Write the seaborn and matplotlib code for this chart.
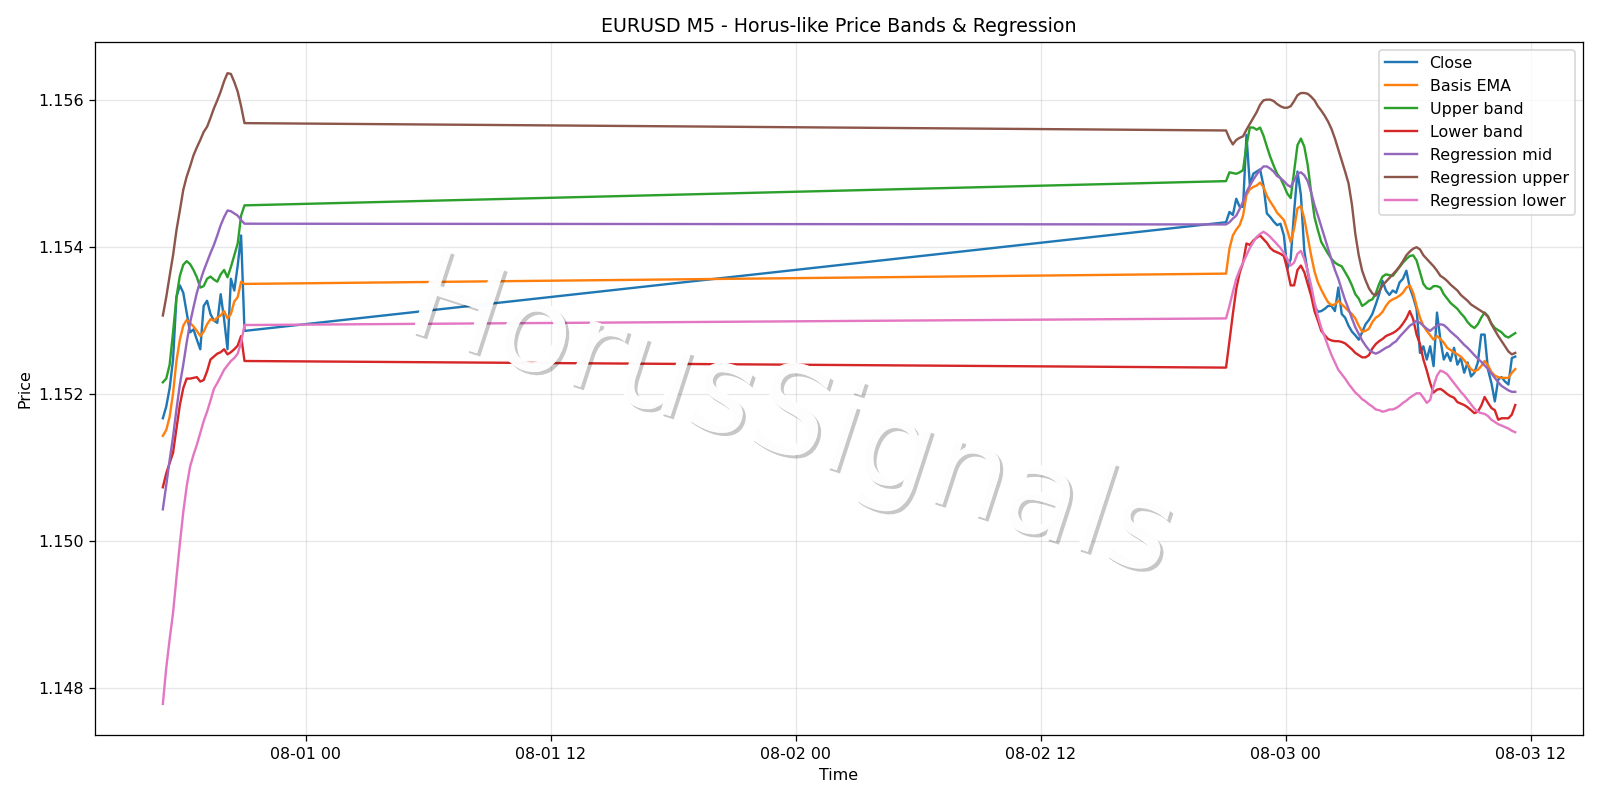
import numpy as np
import pandas as pd
import matplotlib
matplotlib.use("Agg")
import matplotlib.pyplot as plt
import matplotlib.dates as mdates
import matplotlib.patheffects as pe
import seaborn as sns

# DONNÉES (lues sur le graphique, pas de 10 min)
# =============================================

# deux sessions : 07-31 17:00 -> 21:00 puis 08-02 21:05 -> 08-03 11:15
t1 = pd.date_range("2025-07-31 17:00", "2025-07-31 21:00", freq="10min")
t2 = pd.date_range("2025-08-02 21:05", "2025-08-03 11:15", freq="10min")

close_1 = [1.15167, 1.15183, 1.15208, 1.15247, 1.15332, 1.15348, 1.15338, 1.15311, 1.15284, 1.15288,
           1.15274, 1.15261, 1.15320, 1.15327, 1.15309, 1.15300, 1.15297, 1.15336, 1.15302, 1.15261,
           1.15357, 1.15341, 1.15375, 1.15416, 1.15286]
close_2 = [1.15434, 1.15448, 1.15444, 1.15466, 1.15455, 1.15455, 1.15553, 1.15484, 1.15500, 1.15503,
           1.15506, 1.15484, 1.15446, 1.15441, 1.15435, 1.15430, 1.15432, 1.15416, 1.15370, 1.15384,
           1.15448, 1.15503, 1.15471, 1.15395, 1.15366, 1.15341, 1.15320, 1.15312, 1.15313, 1.15316,
           1.15320, 1.15320, 1.15313, 1.15345, 1.15309, 1.15304, 1.15293, 1.15285, 1.15280, 1.15274,
           1.15284, 1.15295, 1.15301, 1.15309, 1.15322, 1.15336, 1.15354, 1.15341, 1.15335, 1.15341,
           1.15338, 1.15352, 1.15357, 1.15368, 1.15345, 1.15332, 1.15316, 1.15256, 1.15265, 1.15247,
           1.15265, 1.15238, 1.15311, 1.15274, 1.15247, 1.15256, 1.15245, 1.15263, 1.15240, 1.15249,
           1.15229, 1.15243, 1.15224, 1.15229, 1.15243, 1.15281, 1.15281, 1.15233, 1.15215, 1.15190,
           1.15220, 1.15223, 1.15217, 1.15213, 1.15249, 1.15251]

ema_1 = [1.15143, 1.15151, 1.15169, 1.15201, 1.15245, 1.15274, 1.15293, 1.15301, 1.15297, 1.15292,
         1.15286, 1.15279, 1.15285, 1.15295, 1.15302, 1.15300, 1.15304, 1.15307, 1.15313, 1.15303,
         1.15309, 1.15326, 1.15332, 1.15353, 1.15350]
ema_2 = [1.15364, 1.15398, 1.15416, 1.15424, 1.15430, 1.15443, 1.15471, 1.15479, 1.15482, 1.15484,
         1.15488, 1.15482, 1.15470, 1.15462, 1.15455, 1.15447, 1.15442, 1.15437, 1.15423, 1.15407,
         1.15425, 1.15453, 1.15456, 1.15439, 1.15414, 1.15389, 1.15367, 1.15352, 1.15342, 1.15333,
         1.15325, 1.15321, 1.15322, 1.15327, 1.15322, 1.15318, 1.15313, 1.15309, 1.15303, 1.15293,
         1.15285, 1.15286, 1.15289, 1.15298, 1.15304, 1.15307, 1.15312, 1.15320, 1.15326, 1.15329,
         1.15331, 1.15334, 1.15338, 1.15345, 1.15348, 1.15338, 1.15320, 1.15304, 1.15293, 1.15286,
         1.15280, 1.15274, 1.15279, 1.15275, 1.15270, 1.15263, 1.15260, 1.15257, 1.15254, 1.15251,
         1.15246, 1.15240, 1.15234, 1.15231, 1.15233, 1.15238, 1.15245, 1.15239, 1.15230, 1.15225,
         1.15223, 1.15222, 1.15222, 1.15222, 1.15229, 1.15234]

upper_1 = [1.15216, 1.15221, 1.15240, 1.15284, 1.15332, 1.15361, 1.15376, 1.15381, 1.15377, 1.15369,
           1.15359, 1.15345, 1.15347, 1.15357, 1.15360, 1.15356, 1.15353, 1.15363, 1.15369, 1.15359,
           1.15373, 1.15389, 1.15405, 1.15443, 1.15457]
upper_2 = [1.15490, 1.15502, 1.15501, 1.15500, 1.15502, 1.15505, 1.15539, 1.15563, 1.15563, 1.15560,
           1.15563, 1.15552, 1.15537, 1.15523, 1.15511, 1.15500, 1.15494, 1.15484, 1.15473, 1.15467,
           1.15503, 1.15539, 1.15548, 1.15537, 1.15512, 1.15475, 1.15441, 1.15423, 1.15407, 1.15399,
           1.15391, 1.15384, 1.15379, 1.15376, 1.15374, 1.15366, 1.15358, 1.15348, 1.15336, 1.15330,
           1.15320, 1.15323, 1.15327, 1.15329, 1.15337, 1.15350, 1.15360, 1.15363, 1.15362, 1.15361,
           1.15367, 1.15373, 1.15379, 1.15384, 1.15388, 1.15389, 1.15382, 1.15366, 1.15350, 1.15344,
           1.15343, 1.15347, 1.15347, 1.15345, 1.15336, 1.15330, 1.15324, 1.15320, 1.15316, 1.15310,
           1.15305, 1.15298, 1.15293, 1.15290, 1.15295, 1.15304, 1.15311, 1.15306, 1.15296, 1.15290,
           1.15287, 1.15284, 1.15279, 1.15277, 1.15280, 1.15283]

lower_1 = [1.15073, 1.15092, 1.15106, 1.15120, 1.15153, 1.15185, 1.15208, 1.15221, 1.15221, 1.15222,
           1.15223, 1.15217, 1.15219, 1.15231, 1.15247, 1.15251, 1.15255, 1.15257, 1.15261, 1.15254,
           1.15257, 1.15261, 1.15266, 1.15279, 1.15245]
lower_2 = [1.15236, 1.15272, 1.15309, 1.15343, 1.15365, 1.15379, 1.15405, 1.15403, 1.15409, 1.15413,
           1.15416, 1.15411, 1.15406, 1.15399, 1.15395, 1.15393, 1.15391, 1.15388, 1.15370, 1.15348,
           1.15348, 1.15369, 1.15375, 1.15366, 1.15350, 1.15334, 1.15313, 1.15300, 1.15286, 1.15280,
           1.15275, 1.15273, 1.15272, 1.15272, 1.15271, 1.15269, 1.15265, 1.15261, 1.15256, 1.15253,
           1.15250, 1.15250, 1.15253, 1.15262, 1.15268, 1.15272, 1.15275, 1.15279, 1.15281, 1.15283,
           1.15286, 1.15290, 1.15296, 1.15303, 1.15313, 1.15302, 1.15281, 1.15268, 1.15247, 1.15232,
           1.15215, 1.15202, 1.15206, 1.15207, 1.15204, 1.15200, 1.15197, 1.15195, 1.15189, 1.15187,
           1.15185, 1.15182, 1.15178, 1.15174, 1.15176, 1.15184, 1.15196, 1.15188, 1.15181, 1.15178,
           1.15165, 1.15167, 1.15167, 1.15167, 1.15172, 1.15185]

reg_mid_1 = [1.15043, 1.15076, 1.15110, 1.15142, 1.15179, 1.15213, 1.15240, 1.15270, 1.15297, 1.15318,
             1.15338, 1.15354, 1.15368, 1.15380, 1.15392, 1.15403, 1.15416, 1.15430, 1.15441, 1.15450,
             1.15449, 1.15446, 1.15443, 1.15437, 1.15432]
reg_mid_2 = [1.15431, 1.15434, 1.15439, 1.15443, 1.15452, 1.15462, 1.15475, 1.15484, 1.15492, 1.15499,
             1.15505, 1.15510, 1.15510, 1.15507, 1.15503, 1.15497, 1.15494, 1.15490, 1.15485, 1.15482,
             1.15491, 1.15500, 1.15502, 1.15498, 1.15490, 1.15475, 1.15457, 1.15443, 1.15428, 1.15413,
             1.15398, 1.15383, 1.15369, 1.15357, 1.15342, 1.15328, 1.15316, 1.15303, 1.15291, 1.15282,
             1.15273, 1.15266, 1.15260, 1.15257, 1.15255, 1.15257, 1.15260, 1.15263, 1.15265, 1.15269,
             1.15272, 1.15278, 1.15283, 1.15288, 1.15293, 1.15296, 1.15300, 1.15297, 1.15293, 1.15289,
             1.15286, 1.15290, 1.15293, 1.15295, 1.15294, 1.15290, 1.15285, 1.15281, 1.15277, 1.15272,
             1.15267, 1.15263, 1.15258, 1.15253, 1.15248, 1.15244, 1.15239, 1.15234, 1.15228, 1.15222,
             1.15216, 1.15211, 1.15208, 1.15205, 1.15203, 1.15203]

reg_up_1 = [1.15307, 1.15332, 1.15361, 1.15389, 1.15423, 1.15450, 1.15478, 1.15496, 1.15510, 1.15525,
            1.15536, 1.15546, 1.15557, 1.15564, 1.15576, 1.15589, 1.15600, 1.15612, 1.15626, 1.15637,
            1.15636, 1.15625, 1.15612, 1.15592, 1.15569]
reg_up_2 = [1.15559, 1.15548, 1.15540, 1.15546, 1.15549, 1.15551, 1.15560, 1.15568, 1.15576, 1.15584,
            1.15594, 1.15600, 1.15601, 1.15601, 1.15599, 1.15595, 1.15592, 1.15590, 1.15590, 1.15592,
            1.15599, 1.15607, 1.15610, 1.15610, 1.15609, 1.15605, 1.15600, 1.15592, 1.15586, 1.15579,
            1.15571, 1.15561, 1.15548, 1.15533, 1.15518, 1.15503, 1.15487, 1.15458, 1.15418, 1.15389,
            1.15368, 1.15355, 1.15344, 1.15337, 1.15334, 1.15340, 1.15348, 1.15353, 1.15358, 1.15363,
            1.15368, 1.15374, 1.15381, 1.15389, 1.15394, 1.15398, 1.15400, 1.15397, 1.15389, 1.15384,
            1.15379, 1.15374, 1.15368, 1.15361, 1.15358, 1.15354, 1.15349, 1.15345, 1.15341, 1.15335,
            1.15331, 1.15327, 1.15322, 1.15319, 1.15316, 1.15313, 1.15310, 1.15305, 1.15295, 1.15287,
            1.15279, 1.15272, 1.15265, 1.15258, 1.15254, 1.15256]

reg_lo_1 = [1.14778, 1.14827, 1.14866, 1.14902, 1.14950, 1.14996, 1.15039, 1.15074, 1.15101, 1.15117,
            1.15131, 1.15147, 1.15163, 1.15176, 1.15191, 1.15207, 1.15215, 1.15224, 1.15233, 1.15239,
            1.15245, 1.15249, 1.15255, 1.15270, 1.15294]
reg_lo_2 = [1.15303, 1.15320, 1.15339, 1.15357, 1.15369, 1.15379, 1.15389, 1.15399, 1.15407, 1.15414,
            1.15418, 1.15421, 1.15418, 1.15414, 1.15409, 1.15404, 1.15399, 1.15392, 1.15384, 1.15375,
            1.15379, 1.15391, 1.15395, 1.15384, 1.15368, 1.15348, 1.15325, 1.15306, 1.15290, 1.15278,
            1.15265, 1.15253, 1.15243, 1.15233, 1.15227, 1.15221, 1.15214, 1.15208, 1.15202, 1.15198,
            1.15193, 1.15190, 1.15186, 1.15183, 1.15179, 1.15178, 1.15176, 1.15177, 1.15179, 1.15179,
            1.15181, 1.15184, 1.15188, 1.15191, 1.15195, 1.15198, 1.15201, 1.15201, 1.15195, 1.15188,
            1.15192, 1.15211, 1.15225, 1.15232, 1.15230, 1.15227, 1.15221, 1.15215, 1.15209, 1.15203,
            1.15198, 1.15192, 1.15186, 1.15180, 1.15176, 1.15174, 1.15173, 1.15170, 1.15165, 1.15162,
            1.15159, 1.15157, 1.15155, 1.15153, 1.15150, 1.15148]

# ASSEMBLAGE
# =============================================
df = pd.DataFrame({
    "Time": t1.append(t2),
    "Close": close_1 + close_2,
    "Basis EMA": ema_1 + ema_2,
    "Upper band": upper_1 + upper_2,
    "Lower band": lower_1 + lower_2,
    "Regression mid": reg_mid_1 + reg_mid_2,
    "Regression upper": reg_up_1 + reg_up_2,
    "Regression lower": reg_lo_1 + reg_lo_2,
})

series = ["Close", "Basis EMA", "Upper band", "Lower band",
          "Regression mid", "Regression upper", "Regression lower"]
colors = sns.color_palette("tab10", len(series))

# GRAPHIQUE
# =============================================
DPI = 1600 / 14
fig, ax = plt.subplots(figsize=(14, 7), dpi=DPI)

for col, c in zip(series, colors):
    sns.lineplot(data=df, x="Time", y=col, ax=ax, color=c, label=col, linewidth=1.5)

ax.set_title("EURUSD M5 - Horus-like Price Bands & Regression")
ax.set_xlabel("Time")
ax.set_ylabel("Price")
ax.grid(True, alpha=0.3)
ax.legend(loc="upper right")
ax.xaxis.set_major_locator(mdates.HourLocator(byhour=[0, 12]))
ax.xaxis.set_major_formatter(mdates.DateFormatter("%m-%d %H"))

# filigrane
fig.text(0.494, 0.475, "HorusSignals", fontsize=77, rotation=-18,
         color="white", alpha=0.85, ha="center", va="center",
         path_effects=[pe.withSimplePatchShadow(offset=(2, -2), shadow_rgbFace="black", alpha=0.22),
                       pe.Normal()])

plt.tight_layout()
plt.savefig("out.png", dpi=DPI)
